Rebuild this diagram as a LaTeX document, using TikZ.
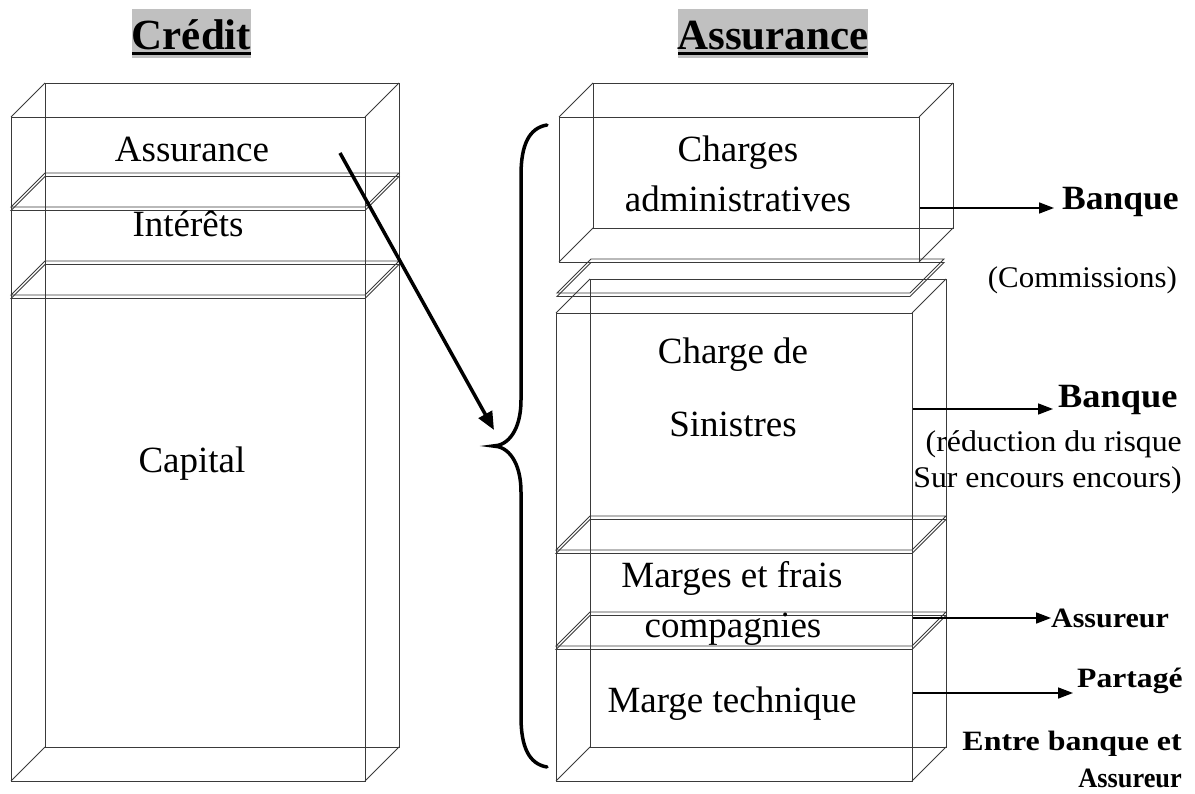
\documentclass[tikz,border=0pt]{standalone}
\usepackage{fontspec}
\setmainfont{Liberation Serif}
\usepackage{graphicx}
\usetikzlibrary{arrows.meta}

\definecolor{hilite}{HTML}{C0C0C0}
\definecolor{edgegray}{HTML}{3A3A3A}

% horizontally stretched text
\newcommand{\widen}[2]{\scalebox{#1}[1]{#2}}

% wireframe cuboid: front face (x1,y1)-(x2,y2), depth 34 up and right
\newcommand{\drawcuboid}[4]{%
  \draw[boxline] (#1,#2) rectangle (#3,#4);
  \draw[boxline] (#1+34,#2-34) rectangle (#3+34,#4-34);
  \draw[boxline] (#1,#2) -- (#1+34,#2-34)
                 (#3,#2) -- (#3+34,#2-34)
                 (#1,#4) -- (#1+34,#4-34)
                 (#3,#4) -- (#3+34,#4-34);}

% thin shelf slab: front edge from x1 to x2 at height y
\newcommand{\drawslab}[3]{%
  \draw[boxline] (#1,#3) -- (#2,#3) -- (#2+34,#3-34) -- (#1+34,#3-34) -- cycle;
  \draw[boxline] (#1,#3+3.5) -- (#2,#3+3.5) -- (#2+34,#3-30.5) -- (#1+34,#3-30.5) -- cycle;}

\begin{document}
\begin{tikzpicture}[x=1pt,y=-1pt,
  boxline/.style={draw=edgegray, line width=0.9pt},
  boxtext/.style={inner sep=0pt, anchor=base, font=\fontsize{37}{44}\selectfont},
  titletext/.style={inner sep=0pt, anchor=base, font=\fontsize{43}{50}\selectfont\bfseries},
  sidebig/.style={inner sep=0pt, font=\fontsize{34}{40}\selectfont\bfseries},
  sidereg/.style={inner sep=0pt, font=\fontsize{30}{36}\selectfont},
  sidesmall/.style={inner sep=0pt, font=\fontsize{28}{33}\selectfont\bfseries},
  flow/.style={line width=1.6pt, -{Triangle[length=15pt,width=11pt]}},
  thick arrow/.style={line width=3.5pt, -{Triangle[length=18pt,width=15pt]}},
  bracepath/.style={line width=3.5pt, line cap=round}]

\useasboundingbox (0,0) rectangle (1195,794);

% ---- column titles ----
\fill[hilite] (132,9) rectangle (251,58);
\fill[black] (132,52) rectangle (251,55);
\node[titletext] (tcredit) at (191.5,50) {Crédit};
\fill[hilite] (678,9) rectangle (868,58);
\fill[black] (678,52) rectangle (868,55);
\node[titletext] (tassur) at (773,50) {Assurance};

% ---- credit column ----
\drawcuboid{11}{117}{365}{781}
\drawslab{11}{365}{207}
\drawslab{11}{365}{295}
\node[boxtext] (cass) at (192,162) {Assurance};
\node[boxtext] (cint) at (188,237) {Intérêts};
\node[boxtext] (ccap) at (192,472) {Capital};

% ---- insurance column ----
\drawcuboid{559}{117}{919}{262}
\drawslab{557}{910}{293}
\drawcuboid{556}{313}{912}{781}
\drawslab{556}{912}{550}
\drawslab{556}{912}{646}

\node[boxtext] (adm1) at (738,162) {Charges};
\node[boxtext] (adm2) at (738,212) {administratives};
\node[boxtext] (sin1) at (733,364) {Charge de};
\node[boxtext] (sin2) at (733,436) {Sinistres};
\node[boxtext] (mar1) at (732,587) {Marges et frais};
\node[boxtext] (mar2) at (733,637) {compagnies};
\node[boxtext] (tec)  at (732,712) {Marge technique};

% ---- brace grouping the insurance components ----
\coordinate (cusp) at (493,446);
\draw[bracepath] (547,125) .. controls (529,128) and (521,145) .. (521,175)
  -- (521,400) .. controls (521,430) and (508,446) .. (cusp)
  .. controls (508,446) and (521,462) .. (521,492)
  -- (521,717) .. controls (521,747) and (529,764) .. (547,767);

% ---- the insurance premium flows into the breakdown ----
\coordinate (premium) at (340,153);
\coordinate (intobrace) at (494,430);
\draw[thick arrow] (premium) -- (intobrace);

% ---- who receives each part ----
\node[sidebig, anchor=base west] (bq1) at (1062,210) {\widen{1.045}{Banque}};
\node[sidereg, anchor=base east] (com) at (1177,288) {\widen{1.03}{(Commissions)}};
\node[sidebig, anchor=base west] (bq2) at (1058,407) {\widen{1.07}{Banque}};
\node[sidereg, anchor=base east] (red1) at (1182,452) {\widen{1.06}{(réduction du risque}};
\node[sidereg, anchor=base east] (red2) at (1182,487) {\widen{1.06}{Sur encours encours)}};
\node[sidesmall, anchor=base west] (asr) at (1051,627) {\widen{1.07}{Assureur}};
\node[sidesmall, anchor=base west] (par) at (1077,687) {\widen{1.13}{Partagé}};
\node[sidesmall, anchor=base east] (ent1) at (1182,750) {\widen{1.14}{Entre banque et}};
\node[sidesmall, anchor=base east] (ent2) at (1182,787) {\widen{0.94}{Assureur}};

\coordinate (s1) at (920,208);
\coordinate (s2) at (913,409);
\coordinate (s3) at (913,618);
\coordinate (s4) at (913,693);
\draw[flow, shorten >=8pt] (s1) -- (s1 -| bq1.west);
\draw[flow, shorten >=5pt] (s2) -- (s2 -| bq2.west);
\draw[flow] (s3) -- (s3 -| asr.west);
\draw[flow, shorten >=4pt] (s4) -- (s4 -| par.west);
\end{tikzpicture}
\end{document}
